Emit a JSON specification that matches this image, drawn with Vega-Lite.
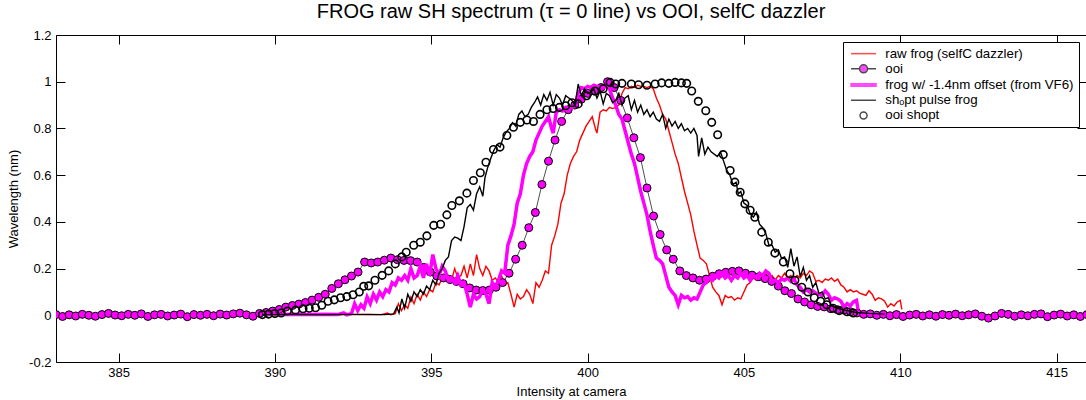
{
  "$schema": "https://vega.github.io/schema/vega-lite/v6.json",
  "width": 1030,
  "height": 327,
  "autosize": {"type": "none"},
  "padding": {"left": 56, "top": 35, "right": 0, "bottom": 38},
  "title": {"text": "FROG raw SH spectrum (τ = 0 line) vs OOI, selfC dazzler", "fontSize": 20, "font": "Liberation Sans", "fontWeight": "normal", "color": "#000", "anchor": "middle", "baseline": "bottom", "offset": -13},
  "datasets": {
    "raw": [
      {"nm":391.1,"v":0.004},{"nm":391.5,"v":0.003},{"nm":392.0,"v":0.004},{"nm":392.5,"v":0.003},{"nm":393.0,"v":0.004},{"nm":393.4,"v":0.003},{"nm":393.6,"v":0.01},{"nm":393.7,"v":0.002},{"nm":393.85,"v":0.007},{"nm":393.95,"v":0.05},
      {"nm":394.05,"v":0.02},{"nm":394.15,"v":0.045},{"nm":394.25,"v":0.03},{"nm":394.35,"v":0.078},{"nm":394.45,"v":0.05},{"nm":394.55,"v":0.09},{"nm":394.65,"v":0.065},{"nm":394.75,"v":0.1},{"nm":394.85,"v":0.08},{"nm":394.95,"v":0.11},
      {"nm":395.05,"v":0.1},{"nm":395.15,"v":0.14},{"nm":395.25,"v":0.13},{"nm":395.35,"v":0.16},{"nm":395.45,"v":0.15},{"nm":395.55,"v":0.17},{"nm":395.65,"v":0.15},{"nm":395.75,"v":0.2},{"nm":395.85,"v":0.16},{"nm":395.95,"v":0.17},
      {"nm":396.05,"v":0.21},{"nm":396.15,"v":0.16},{"nm":396.25,"v":0.22},{"nm":396.35,"v":0.17},{"nm":396.45,"v":0.26},{"nm":396.55,"v":0.2},{"nm":396.65,"v":0.17},{"nm":396.75,"v":0.21},{"nm":396.85,"v":0.19},{"nm":396.95,"v":0.15},
      {"nm":397.05,"v":0.16},{"nm":397.15,"v":0.14},{"nm":397.25,"v":0.17},{"nm":397.35,"v":0.13},{"nm":397.45,"v":0.14},{"nm":397.55,"v":0.09},{"nm":397.65,"v":0.035},{"nm":397.75,"v":0.09},{"nm":397.85,"v":0.07},{"nm":397.95,"v":0.08},
      {"nm":398.05,"v":0.11},{"nm":398.15,"v":0.09},{"nm":398.25,"v":0.05},{"nm":398.35,"v":0.14},{"nm":398.45,"v":0.12},{"nm":398.55,"v":0.15},{"nm":398.65,"v":0.19},{"nm":398.75,"v":0.18},{"nm":398.85,"v":0.3},{"nm":398.95,"v":0.34},
      {"nm":399.05,"v":0.39},{"nm":399.15,"v":0.48},{"nm":399.25,"v":0.52},{"nm":399.35,"v":0.6},{"nm":399.45,"v":0.65},{"nm":399.55,"v":0.68},{"nm":399.65,"v":0.7},{"nm":399.75,"v":0.75},{"nm":399.85,"v":0.78},{"nm":399.95,"v":0.81},
      {"nm":400.05,"v":0.83},{"nm":400.15,"v":0.85},{"nm":400.25,"v":0.8},{"nm":400.3,"v":0.78},{"nm":400.4,"v":0.87},{"nm":400.5,"v":0.88},{"nm":400.6,"v":0.875},{"nm":400.7,"v":0.89},{"nm":400.8,"v":0.885},{"nm":400.9,"v":0.89},
      {"nm":401.0,"v":0.9},{"nm":401.1,"v":0.95},{"nm":401.2,"v":0.975},{"nm":401.3,"v":0.97},{"nm":401.4,"v":0.98},{"nm":401.5,"v":0.975},{"nm":401.6,"v":0.985},{"nm":401.7,"v":0.98},{"nm":401.8,"v":0.98},{"nm":401.9,"v":0.975},
      {"nm":402.0,"v":0.98},{"nm":402.1,"v":0.97},{"nm":402.2,"v":0.93},{"nm":402.3,"v":0.9},{"nm":402.4,"v":0.86},{"nm":402.5,"v":0.84},{"nm":402.6,"v":0.79},{"nm":402.7,"v":0.74},{"nm":402.8,"v":0.69},{"nm":402.9,"v":0.65},
      {"nm":403.0,"v":0.59},{"nm":403.1,"v":0.53},{"nm":403.2,"v":0.48},{"nm":403.3,"v":0.43},{"nm":403.4,"v":0.36},{"nm":403.5,"v":0.3},{"nm":403.6,"v":0.245},{"nm":403.7,"v":0.235},{"nm":403.8,"v":0.22},{"nm":403.9,"v":0.17},
      {"nm":404.0,"v":0.12},{"nm":404.1,"v":0.1},{"nm":404.2,"v":0.085},{"nm":404.3,"v":0.045},{"nm":404.4,"v":0.085},{"nm":404.5,"v":0.075},{"nm":404.6,"v":0.08},{"nm":404.7,"v":0.065},{"nm":404.8,"v":0.075},{"nm":404.9,"v":0.07},
      {"nm":405.0,"v":0.1},{"nm":405.1,"v":0.13},{"nm":405.2,"v":0.14},{"nm":405.3,"v":0.16},{"nm":405.4,"v":0.15},{"nm":405.5,"v":0.17},{"nm":405.6,"v":0.16},{"nm":405.7,"v":0.18},{"nm":405.8,"v":0.16},{"nm":405.9,"v":0.17},
      {"nm":406.0,"v":0.15},{"nm":406.1,"v":0.17},{"nm":406.2,"v":0.16},{"nm":406.3,"v":0.18},{"nm":406.4,"v":0.16},{"nm":406.5,"v":0.17},{"nm":406.6,"v":0.15},{"nm":406.7,"v":0.17},{"nm":406.8,"v":0.16},{"nm":406.9,"v":0.18},
      {"nm":407.0,"v":0.17},{"nm":407.1,"v":0.19},{"nm":407.2,"v":0.18},{"nm":407.3,"v":0.145},{"nm":407.4,"v":0.15},{"nm":407.5,"v":0.14},{"nm":407.6,"v":0.155},{"nm":407.7,"v":0.15},{"nm":407.8,"v":0.16},{"nm":407.9,"v":0.145},
      {"nm":408.0,"v":0.155},{"nm":408.1,"v":0.13},{"nm":408.2,"v":0.12},{"nm":408.3,"v":0.1},{"nm":408.4,"v":0.11},{"nm":408.5,"v":0.1},{"nm":408.6,"v":0.105},{"nm":408.7,"v":0.095},{"nm":408.8,"v":0.09},{"nm":408.9,"v":0.085},
      {"nm":409.0,"v":0.105},{"nm":409.1,"v":0.09},{"nm":409.2,"v":0.064},{"nm":409.3,"v":0.075},{"nm":409.4,"v":0.07},{"nm":409.5,"v":0.06},{"nm":409.6,"v":0.035},{"nm":409.7,"v":0.05},{"nm":409.8,"v":0.04},{"nm":409.9,"v":0.057},
      {"nm":410.0,"v":0.064},{"nm":410.05,"v":0.025}
    ],
    "frogoff": [
      {"nm":389.7,"v":0.004},{"nm":390.1,"v":0.003},{"nm":390.6,"v":0.004},{"nm":391.1,"v":0.003},{"nm":391.6,"v":0.004},{"nm":392.0,"v":0.003},{"nm":392.2,"v":0.01},{"nm":392.3,"v":0.002},{"nm":392.45,"v":0.007},{"nm":392.55,"v":0.05},
      {"nm":392.65,"v":0.02},{"nm":392.75,"v":0.045},{"nm":392.85,"v":0.03},{"nm":392.95,"v":0.078},{"nm":393.05,"v":0.05},{"nm":393.15,"v":0.09},{"nm":393.25,"v":0.065},{"nm":393.35,"v":0.1},{"nm":393.45,"v":0.08},{"nm":393.55,"v":0.11},
      {"nm":393.65,"v":0.1},{"nm":393.75,"v":0.14},{"nm":393.85,"v":0.13},{"nm":393.95,"v":0.16},{"nm":394.05,"v":0.15},{"nm":394.15,"v":0.17},{"nm":394.25,"v":0.15},{"nm":394.35,"v":0.2},{"nm":394.45,"v":0.16},{"nm":394.55,"v":0.17},
      {"nm":394.65,"v":0.21},{"nm":394.75,"v":0.16},{"nm":394.85,"v":0.22},{"nm":394.95,"v":0.17},{"nm":395.05,"v":0.26},{"nm":395.15,"v":0.2},{"nm":395.25,"v":0.17},{"nm":395.35,"v":0.21},{"nm":395.45,"v":0.19},{"nm":395.55,"v":0.15},
      {"nm":395.65,"v":0.16},{"nm":395.75,"v":0.14},{"nm":395.85,"v":0.17},{"nm":395.95,"v":0.13},{"nm":396.05,"v":0.14},{"nm":396.15,"v":0.09},{"nm":396.25,"v":0.035},{"nm":396.35,"v":0.09},{"nm":396.45,"v":0.07},{"nm":396.55,"v":0.08},
      {"nm":396.65,"v":0.11},{"nm":396.75,"v":0.09},{"nm":396.85,"v":0.05},{"nm":396.95,"v":0.14},{"nm":397.05,"v":0.12},{"nm":397.15,"v":0.15},{"nm":397.25,"v":0.19},{"nm":397.35,"v":0.18},{"nm":397.45,"v":0.3},{"nm":397.55,"v":0.34},
      {"nm":397.65,"v":0.39},{"nm":397.75,"v":0.48},{"nm":397.85,"v":0.52},{"nm":397.95,"v":0.6},{"nm":398.05,"v":0.65},{"nm":398.15,"v":0.68},{"nm":398.25,"v":0.7},{"nm":398.35,"v":0.75},{"nm":398.45,"v":0.78},{"nm":398.55,"v":0.81},
      {"nm":398.65,"v":0.83},{"nm":398.75,"v":0.85},{"nm":398.85,"v":0.8},{"nm":398.9,"v":0.78},{"nm":399.0,"v":0.87},{"nm":399.1,"v":0.88},{"nm":399.2,"v":0.875},{"nm":399.3,"v":0.89},{"nm":399.4,"v":0.885},{"nm":399.5,"v":0.89},
      {"nm":399.6,"v":0.9},{"nm":399.7,"v":0.95},{"nm":399.8,"v":0.975},{"nm":399.9,"v":0.97},{"nm":400.0,"v":0.98},{"nm":400.1,"v":0.975},{"nm":400.2,"v":0.985},{"nm":400.3,"v":0.98},{"nm":400.4,"v":0.98},{"nm":400.5,"v":0.975},
      {"nm":400.6,"v":0.98},{"nm":400.7,"v":0.97},{"nm":400.8,"v":0.93},{"nm":400.9,"v":0.9},{"nm":401.0,"v":0.86},{"nm":401.1,"v":0.84},{"nm":401.2,"v":0.79},{"nm":401.3,"v":0.74},{"nm":401.4,"v":0.69},{"nm":401.5,"v":0.65},
      {"nm":401.6,"v":0.59},{"nm":401.7,"v":0.53},{"nm":401.8,"v":0.48},{"nm":401.9,"v":0.43},{"nm":402.0,"v":0.36},{"nm":402.1,"v":0.3},{"nm":402.2,"v":0.245},{"nm":402.3,"v":0.235},{"nm":402.4,"v":0.22},{"nm":402.5,"v":0.17},
      {"nm":402.6,"v":0.12},{"nm":402.7,"v":0.1},{"nm":402.8,"v":0.085},{"nm":402.9,"v":0.045},{"nm":403.0,"v":0.085},{"nm":403.1,"v":0.075},{"nm":403.2,"v":0.08},{"nm":403.3,"v":0.065},{"nm":403.4,"v":0.075},{"nm":403.5,"v":0.07},
      {"nm":403.6,"v":0.1},{"nm":403.7,"v":0.13},{"nm":403.8,"v":0.14},{"nm":403.9,"v":0.16},{"nm":404.0,"v":0.15},{"nm":404.1,"v":0.17},{"nm":404.2,"v":0.16},{"nm":404.3,"v":0.18},{"nm":404.4,"v":0.16},{"nm":404.5,"v":0.17},
      {"nm":404.6,"v":0.15},{"nm":404.7,"v":0.17},{"nm":404.8,"v":0.16},{"nm":404.9,"v":0.18},{"nm":405.0,"v":0.16},{"nm":405.1,"v":0.17},{"nm":405.2,"v":0.15},{"nm":405.3,"v":0.17},{"nm":405.4,"v":0.16},{"nm":405.5,"v":0.18},
      {"nm":405.6,"v":0.17},{"nm":405.7,"v":0.19},{"nm":405.8,"v":0.18},{"nm":405.9,"v":0.145},{"nm":406.0,"v":0.15},{"nm":406.1,"v":0.14},{"nm":406.2,"v":0.155},{"nm":406.3,"v":0.15},{"nm":406.4,"v":0.16},{"nm":406.5,"v":0.145},
      {"nm":406.6,"v":0.155},{"nm":406.7,"v":0.13},{"nm":406.8,"v":0.12},{"nm":406.9,"v":0.1},{"nm":407.0,"v":0.11},{"nm":407.1,"v":0.1},{"nm":407.2,"v":0.105},{"nm":407.3,"v":0.095},{"nm":407.4,"v":0.09},{"nm":407.5,"v":0.085},
      {"nm":407.6,"v":0.105},{"nm":407.7,"v":0.09},{"nm":407.8,"v":0.064},{"nm":407.9,"v":0.075},{"nm":408.0,"v":0.07},{"nm":408.1,"v":0.06},{"nm":408.2,"v":0.035},{"nm":408.3,"v":0.05},{"nm":408.4,"v":0.04},{"nm":408.5,"v":0.057},
      {"nm":408.6,"v":0.064},{"nm":408.65,"v":0.025}
    ],
    "shopt": [
      {"nm":389.6,"v":0.003},{"nm":390.5,"v":0.004},{"nm":391.5,"v":0.003},{"nm":392.5,"v":0.004},{"nm":393.5,"v":0.003},{"nm":393.8,"v":0.006},{"nm":393.9,"v":0.035},{"nm":393.97,"v":0.01},{"nm":394.06,"v":0.07},{"nm":394.15,"v":0.03},
      {"nm":394.25,"v":0.09},{"nm":394.35,"v":0.06},{"nm":394.45,"v":0.1},{"nm":394.55,"v":0.08},{"nm":394.65,"v":0.11},{"nm":394.75,"v":0.09},{"nm":394.85,"v":0.125},{"nm":394.95,"v":0.11},{"nm":395.05,"v":0.15},{"nm":395.15,"v":0.13},
      {"nm":395.25,"v":0.18},{"nm":395.35,"v":0.2},{"nm":395.45,"v":0.235},{"nm":395.55,"v":0.25},{"nm":395.65,"v":0.32},{"nm":395.75,"v":0.335},{"nm":395.85,"v":0.33},{"nm":395.95,"v":0.32},{"nm":396.05,"v":0.38},{"nm":396.15,"v":0.46},
      {"nm":396.25,"v":0.475},{"nm":396.35,"v":0.45},{"nm":396.45,"v":0.52},{"nm":396.55,"v":0.55},{"nm":396.65,"v":0.51},{"nm":396.72,"v":0.59},{"nm":396.8,"v":0.63},{"nm":396.9,"v":0.67},{"nm":397.0,"v":0.705},{"nm":397.1,"v":0.73},
      {"nm":397.2,"v":0.72},{"nm":397.3,"v":0.76},{"nm":397.4,"v":0.785},{"nm":397.5,"v":0.8},{"nm":397.6,"v":0.825},{"nm":397.7,"v":0.81},{"nm":397.8,"v":0.86},{"nm":397.9,"v":0.875},{"nm":398.0,"v":0.85},{"nm":398.1,"v":0.86},
      {"nm":398.2,"v":0.89},{"nm":398.3,"v":0.91},{"nm":398.4,"v":0.935},{"nm":398.5,"v":0.9},{"nm":398.6,"v":0.945},{"nm":398.7,"v":0.92},{"nm":398.8,"v":0.955},{"nm":398.9,"v":0.9},{"nm":399.0,"v":0.945},{"nm":399.1,"v":0.93},
      {"nm":399.2,"v":0.9},{"nm":399.3,"v":0.94},{"nm":399.4,"v":0.93},{"nm":399.5,"v":0.92},{"nm":399.6,"v":0.9},{"nm":399.7,"v":0.99},{"nm":399.8,"v":0.94},{"nm":399.9,"v":0.97},{"nm":400.0,"v":0.95},{"nm":400.1,"v":0.955},
      {"nm":400.2,"v":0.97},{"nm":400.3,"v":0.93},{"nm":400.4,"v":0.96},{"nm":400.5,"v":0.905},{"nm":400.6,"v":0.95},{"nm":400.7,"v":0.94},{"nm":400.8,"v":0.91},{"nm":400.9,"v":0.92},{"nm":401.0,"v":0.95},{"nm":401.1,"v":0.9},
      {"nm":401.2,"v":0.93},{"nm":401.3,"v":0.94},{"nm":401.4,"v":0.88},{"nm":401.5,"v":0.92},{"nm":401.6,"v":0.87},{"nm":401.7,"v":0.9},{"nm":401.8,"v":0.86},{"nm":401.9,"v":0.88},{"nm":402.0,"v":0.85},{"nm":402.1,"v":0.87},
      {"nm":402.2,"v":0.84},{"nm":402.3,"v":0.83},{"nm":402.4,"v":0.86},{"nm":402.5,"v":0.8},{"nm":402.6,"v":0.84},{"nm":402.7,"v":0.81},{"nm":402.8,"v":0.83},{"nm":402.9,"v":0.8},{"nm":403.0,"v":0.82},{"nm":403.1,"v":0.79},
      {"nm":403.2,"v":0.8},{"nm":403.3,"v":0.78},{"nm":403.4,"v":0.8},{"nm":403.5,"v":0.77},{"nm":403.55,"v":0.68},{"nm":403.65,"v":0.76},{"nm":403.75,"v":0.69},{"nm":403.85,"v":0.72},{"nm":403.95,"v":0.7},{"nm":404.05,"v":0.69},
      {"nm":404.15,"v":0.68},{"nm":404.25,"v":0.7},{"nm":404.35,"v":0.66},{"nm":404.45,"v":0.62},{"nm":404.55,"v":0.6},{"nm":404.65,"v":0.56},{"nm":404.75,"v":0.57},{"nm":404.82,"v":0.52},{"nm":404.9,"v":0.53},{"nm":405.0,"v":0.48},
      {"nm":405.1,"v":0.47},{"nm":405.2,"v":0.435},{"nm":405.3,"v":0.42},{"nm":405.4,"v":0.44},{"nm":405.5,"v":0.39},{"nm":405.6,"v":0.375},{"nm":405.7,"v":0.35},{"nm":405.8,"v":0.3},{"nm":405.9,"v":0.3},{"nm":406.0,"v":0.27},
      {"nm":406.1,"v":0.28},{"nm":406.2,"v":0.245},{"nm":406.3,"v":0.25},{"nm":406.4,"v":0.205},{"nm":406.5,"v":0.285},{"nm":406.6,"v":0.21},{"nm":406.7,"v":0.25},{"nm":406.8,"v":0.165},{"nm":406.9,"v":0.205},{"nm":407.0,"v":0.15},
      {"nm":407.1,"v":0.17},{"nm":407.2,"v":0.12},{"nm":407.3,"v":0.14},{"nm":407.4,"v":0.093},{"nm":407.5,"v":0.1},{"nm":407.6,"v":0.07},{"nm":407.7,"v":0.075},{"nm":407.8,"v":0.04},{"nm":407.9,"v":0.035},{"nm":408.1,"v":0.025},
      {"nm":408.3,"v":0.02},{"nm":408.6,"v":0.012},{"nm":409.0,"v":0.008},{"nm":409.5,"v":0.005}
    ],
    "ooi": [
      {"nm":383.0,"v":0.003},{"nm":383.21,"v":-0.005},{"nm":383.42,"v":0.002},{"nm":383.63,"v":-0.003},{"nm":383.84,"v":0.004},{"nm":384.05,"v":0.0},{"nm":384.26,"v":-0.004},{"nm":384.47,"v":0.003},{"nm":384.68,"v":0.008},{"nm":384.89,"v":0.001},
      {"nm":385.1,"v":-0.002},{"nm":385.31,"v":0.004},{"nm":385.52,"v":0.0},{"nm":385.73,"v":0.006},{"nm":385.94,"v":-0.005},{"nm":386.15,"v":0.002},{"nm":386.36,"v":0.004},{"nm":386.57,"v":-0.003},{"nm":386.78,"v":0.001},{"nm":386.99,"v":0.005},
      {"nm":387.2,"v":-0.006},{"nm":387.41,"v":0.003},{"nm":387.62,"v":0.0},{"nm":387.83,"v":0.004},{"nm":388.04,"v":-0.002},{"nm":388.25,"v":0.005},{"nm":388.46,"v":0.001},{"nm":388.67,"v":0.006},{"nm":388.88,"v":0.009},{"nm":389.09,"v":0.002},
      {"nm":389.3,"v":-0.004},{"nm":389.51,"v":0.008},{"nm":389.72,"v":0.012},{"nm":389.93,"v":0.018},{"nm":390.14,"v":0.025},{"nm":390.35,"v":0.035},{"nm":390.56,"v":0.042},{"nm":390.77,"v":0.048},{"nm":390.98,"v":0.055},{"nm":391.19,"v":0.065},
      {"nm":391.4,"v":0.077},{"nm":391.61,"v":0.09},{"nm":391.82,"v":0.115},{"nm":392.03,"v":0.135},{"nm":392.24,"v":0.152},{"nm":392.45,"v":0.168},{"nm":392.66,"v":0.185},{"nm":392.87,"v":0.228},{"nm":393.08,"v":0.224},{"nm":393.29,"v":0.228},
      {"nm":393.5,"v":0.236},{"nm":393.71,"v":0.245},{"nm":393.92,"v":0.238},{"nm":394.13,"v":0.235},{"nm":394.34,"v":0.234},{"nm":394.55,"v":0.228},{"nm":394.76,"v":0.205},{"nm":394.97,"v":0.185},{"nm":395.18,"v":0.168},{"nm":395.39,"v":0.16},
      {"nm":395.6,"v":0.153},{"nm":395.81,"v":0.145},{"nm":396.02,"v":0.135},{"nm":396.23,"v":0.117},{"nm":396.44,"v":0.108},{"nm":396.65,"v":0.106},{"nm":396.86,"v":0.108},{"nm":397.07,"v":0.12},{"nm":397.28,"v":0.14},{"nm":397.49,"v":0.18},
      {"nm":397.7,"v":0.24},{"nm":397.91,"v":0.3},{"nm":398.12,"v":0.375},{"nm":398.33,"v":0.44},{"nm":398.54,"v":0.56},{"nm":398.75,"v":0.66},{"nm":398.96,"v":0.75},{"nm":399.17,"v":0.83},{"nm":399.38,"v":0.88},{"nm":399.59,"v":0.9},
      {"nm":399.8,"v":0.925},{"nm":400.01,"v":0.95},{"nm":400.22,"v":0.96},{"nm":400.43,"v":0.975},{"nm":400.64,"v":1.0},{"nm":400.85,"v":0.975},{"nm":401.06,"v":0.92},{"nm":401.27,"v":0.845},{"nm":401.48,"v":0.76},{"nm":401.69,"v":0.675},
      {"nm":401.9,"v":0.545},{"nm":402.11,"v":0.425},{"nm":402.32,"v":0.346},{"nm":402.53,"v":0.28},{"nm":402.74,"v":0.24},{"nm":402.95,"v":0.19},{"nm":403.16,"v":0.17},{"nm":403.37,"v":0.16},{"nm":403.58,"v":0.15},{"nm":403.79,"v":0.155},
      {"nm":404.0,"v":0.167},{"nm":404.21,"v":0.178},{"nm":404.42,"v":0.184},{"nm":404.63,"v":0.188},{"nm":404.84,"v":0.19},{"nm":405.05,"v":0.18},{"nm":405.26,"v":0.172},{"nm":405.47,"v":0.165},{"nm":405.68,"v":0.157},{"nm":405.89,"v":0.145},
      {"nm":406.1,"v":0.125},{"nm":406.31,"v":0.105},{"nm":406.52,"v":0.093},{"nm":406.73,"v":0.07},{"nm":406.94,"v":0.057},{"nm":407.15,"v":0.045},{"nm":407.36,"v":0.038},{"nm":407.57,"v":0.036},{"nm":407.78,"v":0.028},{"nm":407.99,"v":0.024},
      {"nm":408.2,"v":0.022},{"nm":408.41,"v":0.015},{"nm":408.62,"v":0.01},{"nm":408.83,"v":0.004},{"nm":409.04,"v":0.006},{"nm":409.25,"v":0.0},{"nm":409.46,"v":0.004},{"nm":409.67,"v":-0.002},{"nm":409.88,"v":0.003},{"nm":410.09,"v":-0.005},
      {"nm":410.3,"v":0.001},{"nm":410.51,"v":0.004},{"nm":410.72,"v":-0.003},{"nm":410.93,"v":0.002},{"nm":411.14,"v":-0.004},{"nm":411.35,"v":0.003},{"nm":411.56,"v":0.0},{"nm":411.77,"v":0.005},{"nm":411.98,"v":-0.002},{"nm":412.19,"v":0.002},
      {"nm":412.4,"v":0.006},{"nm":412.61,"v":-0.004},{"nm":412.82,"v":-0.012},{"nm":413.03,"v":-0.003},{"nm":413.24,"v":0.008},{"nm":413.45,"v":0.004},{"nm":413.66,"v":-0.004},{"nm":413.87,"v":0.002},{"nm":414.08,"v":-0.002},{"nm":414.29,"v":0.004},
      {"nm":414.5,"v":0.006},{"nm":414.71,"v":-0.006},{"nm":414.92,"v":0.001},{"nm":415.13,"v":0.005},{"nm":415.34,"v":-0.003},{"nm":415.55,"v":0.002},{"nm":415.76,"v":-0.005},{"nm":415.97,"v":0.003}
    ],
    "ooishopt": [
      {"nm":389.6,"v":0.003},{"nm":389.8,"v":0.005},{"nm":390.0,"v":0.008},{"nm":390.2,"v":0.01},{"nm":390.4,"v":0.018},{"nm":390.66,"v":0.022},{"nm":390.9,"v":0.028},{"nm":391.1,"v":0.03},{"nm":391.3,"v":0.032},{"nm":391.5,"v":0.043},
      {"nm":391.7,"v":0.06},{"nm":391.9,"v":0.066},{"nm":392.1,"v":0.075},{"nm":392.3,"v":0.08},{"nm":392.5,"v":0.088},{"nm":392.7,"v":0.1},{"nm":392.84,"v":0.124},{"nm":393.0,"v":0.126},{"nm":393.2,"v":0.15},{"nm":393.43,"v":0.171},
      {"nm":393.64,"v":0.19},{"nm":393.85,"v":0.22},{"nm":394.06,"v":0.25},{"nm":394.2,"v":0.27},{"nm":394.44,"v":0.3},{"nm":394.65,"v":0.313},{"nm":394.86,"v":0.34},{"nm":395.08,"v":0.385},{"nm":395.3,"v":0.39},{"nm":395.5,"v":0.43},
      {"nm":395.66,"v":0.47},{"nm":395.9,"v":0.49},{"nm":396.14,"v":0.523},{"nm":396.35,"v":0.577},{"nm":396.57,"v":0.61},{"nm":396.75,"v":0.655},{"nm":396.99,"v":0.71},{"nm":397.2,"v":0.72},{"nm":397.42,"v":0.77},{"nm":397.63,"v":0.805},
      {"nm":397.85,"v":0.826},{"nm":398.06,"v":0.836},{"nm":398.27,"v":0.83},{"nm":398.48,"v":0.86},{"nm":398.7,"v":0.88},{"nm":398.9,"v":0.885},{"nm":399.1,"v":0.89},{"nm":399.3,"v":0.897},{"nm":399.5,"v":0.91},{"nm":399.7,"v":0.905},
      {"nm":399.97,"v":0.94},{"nm":400.24,"v":0.96},{"nm":400.5,"v":0.97},{"nm":400.72,"v":0.997},{"nm":400.9,"v":0.99},{"nm":401.1,"v":0.993},{"nm":401.4,"v":0.99},{"nm":401.63,"v":0.987},{"nm":401.9,"v":0.985},{"nm":402.16,"v":0.99},
      {"nm":402.37,"v":0.995},{"nm":402.6,"v":0.993},{"nm":402.8,"v":0.997},{"nm":403.0,"v":0.995},{"nm":403.17,"v":0.993},{"nm":403.33,"v":0.96},{"nm":403.54,"v":0.916},{"nm":403.78,"v":0.876},{"nm":403.97,"v":0.826},{"nm":404.16,"v":0.773},
      {"nm":404.34,"v":0.688},{"nm":404.56,"v":0.62},{"nm":404.71,"v":0.57},{"nm":404.88,"v":0.527},{"nm":405.03,"v":0.477},{"nm":405.2,"v":0.45},{"nm":405.35,"v":0.42},{"nm":405.57,"v":0.356},{"nm":405.78,"v":0.313},{"nm":405.99,"v":0.266},
      {"nm":406.26,"v":0.228},{"nm":406.47,"v":0.178},{"nm":406.63,"v":0.15},{"nm":406.85,"v":0.12},{"nm":407.05,"v":0.1},{"nm":407.25,"v":0.075},{"nm":407.45,"v":0.06},{"nm":407.65,"v":0.045},{"nm":407.85,"v":0.03},{"nm":408.05,"v":0.02},
      {"nm":408.3,"v":0.015},{"nm":408.5,"v":0.01}
    ]
  },
  "resolve": {"axis": {"x": "independent", "y": "independent"}},
  "layer": [
    {
      "data": {"name": "raw"},
      "mark": {"type": "line", "color": "#ff0000", "strokeWidth": 1.4, "clip": true},
      "encoding": {
        "x": {"field": "nm", "type": "quantitative", "scale": {"domain": [383, 415.94], "nice": false, "zero": false},
              "axis": {"orient": "bottom", "values": [385, 390, 395, 400, 405, 410, 415], "title": "Intensity at camera", "labelFlush": false, "labelPadding": 13, "titlePadding": 6}},
        "y": {"field": "v", "type": "quantitative", "scale": {"domain": [-0.2, 1.2], "nice": false, "zero": false},
              "axis": {"orient": "left", "values": [-0.2, 0, 0.2, 0.4, 0.6, 0.8, 1, 1.2], "labelExpr": "toString(round(datum.value*10)/10)", "title": "Wavelength (nm)", "labelPadding": 14, "titlePadding": 8}}
      }
    },
    {
      "data": {"name": "ooi"},
      "mark": {"type": "line", "color": "#222222", "strokeWidth": 0.8, "clip": true},
      "encoding": {
        "x": {"field": "nm", "type": "quantitative", "scale": {"domain": [383, 415.94], "nice": false, "zero": false},
              "axis": {"orient": "top", "values": [385, 390, 395, 400, 405, 410, 415], "labels": false, "title": null}},
        "y": {"field": "v", "type": "quantitative", "scale": {"domain": [-0.2, 1.2], "nice": false, "zero": false},
              "axis": {"orient": "right", "values": [-0.2, 0, 0.2, 0.4, 0.6, 0.8, 1, 1.2], "labels": false, "title": null}}
      }
    },
    {
      "data": {"name": "ooi"},
      "mark": {"type": "point", "shape": "circle", "filled": true, "fill": "#ff00ff", "stroke": "#000000", "strokeWidth": 1, "size": 64, "opacity": 1, "clip": true},
      "encoding": {
        "x": {"field": "nm", "type": "quantitative", "axis": null},
        "y": {"field": "v", "type": "quantitative", "axis": null}
      }
    },
    {
      "data": {"name": "frogoff"},
      "mark": {"type": "line", "color": "#ff00ff", "strokeWidth": 3.5, "clip": true},
      "encoding": {
        "x": {"field": "nm", "type": "quantitative", "axis": null},
        "y": {"field": "v", "type": "quantitative", "axis": null}
      }
    },
    {
      "data": {"name": "shopt"},
      "mark": {"type": "line", "color": "#000000", "strokeWidth": 1.4, "clip": true},
      "encoding": {
        "x": {"field": "nm", "type": "quantitative", "axis": null},
        "y": {"field": "v", "type": "quantitative", "axis": null}
      }
    },
    {
      "data": {"name": "ooishopt"},
      "mark": {"type": "point", "shape": "circle", "filled": false, "stroke": "#000000", "strokeWidth": 1.6, "size": 56, "opacity": 1, "clip": true},
      "encoding": {
        "x": {"field": "nm", "type": "quantitative", "axis": null},
        "y": {"field": "v", "type": "quantitative", "axis": null}
      }
    },
    {
      "data": {"values": []},
      "mark": {"type": "point", "filled": true},
      "encoding": {
        "shape": {"field": "series", "type": "nominal",
          "scale": {"domain": ["raw frog (selfC dazzler)", "ooi", "frog w/ -1.4nm offset (from VF6)\u00a0\u00a0\u00a0\u00a0\u00a0", "shₒpt pulse frog", "ooi shopt"],
                    "range": ["M-0.72,0H4.28", "M-0.72,0H0.98M2.58,0H4.28M2.58,0A0.8,0.8,0,1,1,0.98,0A0.8,0.8,0,1,1,2.58,0", "M-0.72,-0.25H4.28V0.25H-0.72Z", "M-0.72,0H4.28", "M2.48,0A0.7,0.7,0,1,1,1.08,0A0.7,0.7,0,1,1,2.48,0"]},
          "legend": {"orient": "none", "legendX": 787, "legendY": 7, "title": null}},
        "stroke": {"field": "series", "type": "nominal",
          "scale": {"domain": ["raw frog (selfC dazzler)", "ooi", "frog w/ -1.4nm offset (from VF6)\u00a0\u00a0\u00a0\u00a0\u00a0", "shₒpt pulse frog", "ooi shopt"],
                    "range": ["#ff0000", "#000000", "#ff00ff", "#000000", "#000000"]},
          "legend": {"orient": "none", "legendX": 787, "legendY": 7, "title": null}},
        "fill": {"field": "series", "type": "nominal",
          "scale": {"domain": ["raw frog (selfC dazzler)", "ooi", "frog w/ -1.4nm offset (from VF6)\u00a0\u00a0\u00a0\u00a0\u00a0", "shₒpt pulse frog", "ooi shopt"],
                    "range": ["transparent", "#ff00ff", "#ff00ff", "transparent", "transparent"]},
          "legend": {"orient": "none", "legendX": 787, "legendY": 7, "title": null}}
      }
    }
  ],
  "config": {
    "font": "Liberation Sans",
    "view": {"stroke": "#000000", "strokeWidth": 1},
    "axis": {"domain": false, "grid": false, "tickColor": "#000000", "tickSize": -9, "tickWidth": 1, "labelColor": "#000000", "titleColor": "#000000", "labelFont": "Liberation Sans", "titleFont": "Liberation Sans", "labelFontSize": 13, "titleFontSize": 13, "titleFontWeight": "normal"},
    "legend": {"labelFont": "Liberation Sans", "labelFontSize": 13.3, "labelColor": "#000000", "labelLimit": 400, "symbolSize": 100, "symbolStrokeWidth": 1.5, "symbolFillColor": "transparent", "strokeColor": "#000000", "fillColor": "#ffffff", "padding": 5, "rowPadding": 1.2, "labelOffset": 24, "cornerRadius": 0}
  }
}
